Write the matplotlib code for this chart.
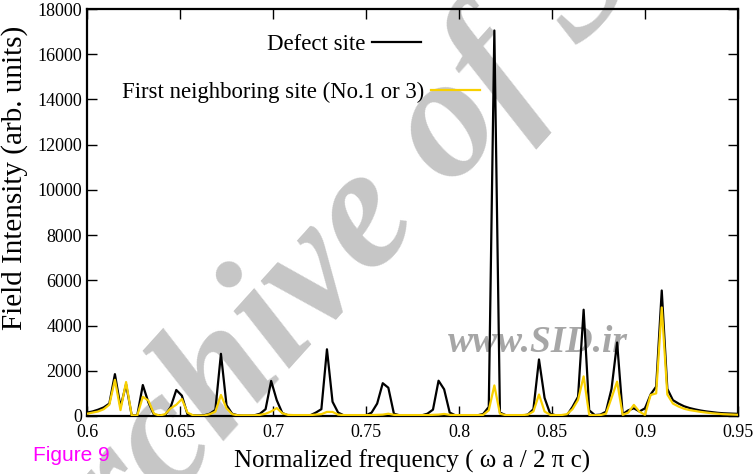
import numpy as np
import matplotlib
matplotlib.use("Agg")
import matplotlib.pyplot as plt
from matplotlib.lines import Line2D

# sampled frequencies (omega a / 2 pi c), step 0.003
freq = np.round(0.600 + 0.003 * np.arange(118), 3)

# field intensity at the defect site
defect = [
    150, 200, 280, 380, 550, 1850, 400, 1400, 40, 20,
    1370, 600, 60, 20, 40, 400, 1150, 900, 80, 30,
    20, 30, 100, 270, 2750, 480, 100, 30, 20, 20,
    30, 100, 300, 1550, 700, 130, 30, 20, 20, 20,
    30, 150, 300, 2950, 630, 150, 30, 20, 20, 20,
    30, 150, 550, 1450, 1250, 100, 30, 20, 20, 20,
    30, 100, 280, 1560, 1180, 150, 30, 20, 20, 20,
    30, 90, 400, 17050, 150, 40, 20, 20, 20, 60,
    300, 2500, 800, 100, 30, 20, 30, 400, 850, 4700,
    250, 40, 60, 190, 1200, 3250, 80, 250, 340, 200,
    340, 950, 1300, 5550, 1200, 700, 550, 430, 350, 290,
    240, 200, 170, 140, 120, 110, 100, 90,
]

# field intensity at the first neighbouring site
neighbor = [
    100, 150, 200, 300, 500, 1600, 260, 1500, 30, 20,
    850, 680, 100, 20, 80, 340, 500, 750, 150, 30,
    20, 20, 80, 190, 930, 340, 80, 30, 30, 30,
    30, 50, 100, 200, 350, 120, 50, 40, 40, 40,
    40, 60, 80, 180, 180, 60, 40, 40, 40, 40,
    40, 40, 50, 60, 100, 50, 40, 40, 40, 40,
    40, 40, 50, 60, 90, 50, 40, 40, 40, 40,
    40, 50, 250, 1350, 100, 40, 40, 40, 40, 60,
    200, 950, 200, 50, 40, 40, 80, 300, 710, 1750,
    50, 30, 40, 100, 800, 1520, 50, 150, 490, 190,
    50, 930, 1000, 4800, 950, 550, 420, 320, 260, 220,
    180, 150, 120, 100, 80, 70, 60, 50,
]

xticks = [0.6, 0.65, 0.7, 0.75, 0.8, 0.85, 0.9, 0.95]
xticklabels = ["0.6", "0.65", "0.7", "0.75", "0.8", "0.85", "0.9", "0.95"]
yticks = list(range(0, 18001, 2000))

BLACK = "black"
YELLOW = "#f8d000"
SERIF = ["Liberation Serif", "DejaVu Serif"]

plt.rcParams["font.family"] = SERIF

fig = plt.figure(figsize=(7.56, 4.74), dpi=100)
ax = fig.add_axes([0.1151, 0.1224, 0.8611, 0.8586])

# watermark behind the curves
ax.text(0.505, 0.55, "Archive of SID", transform=fig.transFigure,
        fontsize=125, fontweight="bold", fontstyle="italic", color="#c6c6c6",
        rotation=48, ha="center", va="center", zorder=0.5, clip_on=False)
ax.text(0.712, 0.278, "www.SID.ir", transform=fig.transFigure,
        fontsize=27, fontweight="bold", fontstyle="italic", color="#a6a6a6",
        ha="center", va="center", zorder=0.6, clip_on=False)

ax.plot(freq, defect, color=BLACK, lw=1.6, zorder=2)
ax.plot(freq, neighbor, color=YELLOW, lw=1.6, zorder=3)

ax.set_xlim(0.6, 0.95)
ax.set_ylim(0, 18000)
ax.set_xticks(xticks)
ax.set_xticklabels(xticklabels)
ax.set_yticks(yticks)
ax.tick_params(direction="in", length=7, width=1.0, top=True, right=True,
               labelsize=13)
ax.tick_params(axis="x", pad=6)
for s in ax.spines.values():
    s.set_linewidth(1.6)

ax.set_xlabel("Normalized frequency ( \u03c9 a / 2 \u03c0 c)", fontsize=18, labelpad=6)
ax.set_ylabel("Field Intensity (arb. units)", fontsize=21)
ax.yaxis.set_label_coords(-0.09, 0.585)

# two separate legend entries, text before the sample line
leg_kw = dict(frameon=False, markerfirst=False, fontsize=16.4, loc="center right",
              handlelength=2.15, handletextpad=0.3, borderaxespad=0, borderpad=0)
leg1 = ax.legend([Line2D([], [], color=BLACK, lw=1.6)], ["Defect site"],
                 bbox_to_anchor=(0.513, 0.914), **leg_kw)
ax.add_artist(leg1)
ax.legend([Line2D([], [], color=YELLOW, lw=1.6)], ["First neighboring site (No.1 or 3)"],
          bbox_to_anchor=(0.604, 0.796), **leg_kw)

fig.text(0.044, 0.038, "Figure 9", color="#ff00ff", fontsize=15,
         family="Liberation Sans", ha="left", va="center")

fig.savefig("out.png", dpi=100)
